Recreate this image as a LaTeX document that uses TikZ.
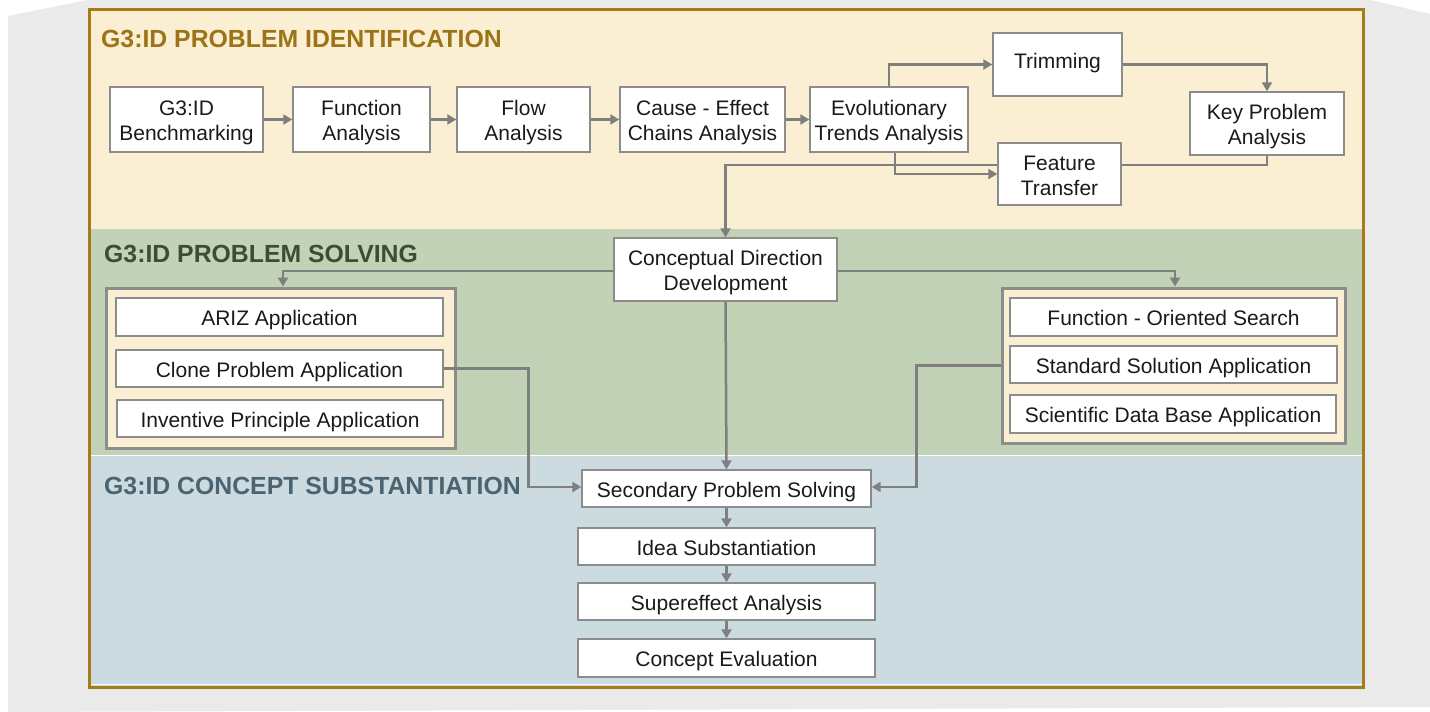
\documentclass[tikz,border=0pt]{standalone}
\usepackage{fontspec}
\setmainfont{Liberation Sans}
\usetikzlibrary{arrows.meta}
\definecolor{pagegrey}{HTML}{EAEAEA}
\definecolor{frame}{HTML}{A67C1A}
\definecolor{bandA}{HTML}{FAEFD3}
\definecolor{bandB}{HTML}{C2D2B6}
\definecolor{bandC}{HTML}{CCDBDF}
\definecolor{titleA}{HTML}{9C7316}
\definecolor{titleB}{HTML}{3E4C36}
\definecolor{titleC}{HTML}{4A6472}
\definecolor{boxline}{HTML}{8C8C8C}
\definecolor{wire}{HTML}{7F7F7F}
\definecolor{textcol}{HTML}{1A1A1A}
\newcommand\bodyfont{\fontsize{21bp}{25bp}\selectfont}
\newcommand\bandfont{\fontsize{24.8bp}{28bp}\selectfont\bfseries}
% struts that set the text a little low in its box
\newcommand\topstrut[1]{\rule{0pt}{#1}}
\newcommand\botstrut[1]{\rule[-#1]{0pt}{0pt}}
\newcommand\oneline[1]{\topstrut{22bp}#1\botstrut{5bp}}
\newcommand\twolines[2]{\topstrut{22bp}#1\\#2\botstrut{5bp}}
\tikzset{
  stepbox/.style={draw=boxline, fill=white, line width=1.4bp, inner sep=0pt,
    align=center, font=\bodyfont, text=textcol},
  groupbox/.style={draw=boxline, fill=bandA, line width=3bp, inner sep=0pt},
  bandtitle/.style={anchor=base west, inner sep=0pt, font=\bandfont},
  arr/.style={draw=wire, line width=2.5bp,
    -{Triangle[width=10bp,length=9bp]}},
  link/.style={draw=wire, line width=2.5bp},
}
\begin{document}
\begin{tikzpicture}[x=1bp, y=-1bp]
\useasboundingbox (0,0) rectangle (1430,712);
% backdrop and frame
\fill[pagegrey] (8,712) -- (8,16) -- (88,0) -- (1370,0) -- (1430,14) -- (1430,707) -- cycle;
\fill[bandA] (90,10) rectangle (1362,229);
\fill[bandB] (90,229) rectangle (1362,455);
\fill[bandC] (90,456) rectangle (1362,686);
\draw[white, line width=1.2bp] (90,455.5) -- (1362,455.5);
\draw[white!85!bandC, line width=1.2bp] (90,684.5) -- (1362,684.5);
\draw[frame, line width=3bp] (89.5,9.5) rectangle (1363,687);

% band titles
\node[bandtitle, text=titleA] (tA) at (101,47.5) {G3:ID PROBLEM IDENTIFICATION};
\node[bandtitle, text=titleB] (tB) at (104,262) {G3:ID PROBLEM SOLVING};
\node[bandtitle, text=titleC] (tC) at (104,494) {G3:ID CONCEPT SUBSTANTIATION};

% problem identification
\node[stepbox, minimum width=153bp, minimum height=65bp] (bench) at (186.5,119.5) {\twolines{G3:ID}{Benchmarking}};
\node[stepbox, minimum width=137bp, minimum height=65bp] (func) at (361.5,119.5) {\twolines{Function}{Analysis}};
\node[stepbox, minimum width=133bp, minimum height=65bp] (flow) at (523.5,119.5) {\twolines{Flow}{Analysis}};
\node[stepbox, minimum width=165bp, minimum height=65bp] (cause) at (702.5,119.5) {\twolines{Cause - Effect}{Chains Analysis}};
\node[stepbox, minimum width=158bp, minimum height=65bp] (evol) at (889,119.5) {\twolines{Evolutionary}{Trends Analysis}};
\node[stepbox, minimum width=129bp, minimum height=63bp] (trim) at (1057.5,64.5) {\topstrut{16bp}Trimming\botstrut{7bp}};
\node[stepbox, minimum width=154bp, minimum height=63bp] (key) at (1267,123.5) {\twolines{Key Problem}{Analysis}};
\node[stepbox, minimum width=123bp, minimum height=62bp] (feat) at (1059.5,174) {\twolines{Feature}{Transfer}};

% problem solving
\node[stepbox, minimum width=223bp, minimum height=63bp] (cdd) at (725.5,269.5) {\twolines{Conceptual Direction}{Development}};
\node[groupbox, minimum width=348bp, minimum height=160bp] (lg) at (281,368) {};
\node[stepbox, minimum width=327bp, minimum height=38bp] (ariz) at (279.5,317) {\oneline{ARIZ Application}};
\node[stepbox, minimum width=327bp, minimum height=37bp] (clone) at (279.5,368.5) {\oneline{Clone Problem Application}};
\node[stepbox, minimum width=326bp, minimum height=37bp] (invent) at (280,418.5) {\oneline{Inventive Principle Application}};
\node[groupbox, minimum width=343bp, minimum height=155bp] (rg) at (1173.5,365.5) {};
\node[stepbox, minimum width=327bp, minimum height=38bp] (fos) at (1173.5,317) {\oneline{Function - Oriented Search}};
\node[stepbox, minimum width=327bp, minimum height=37bp] (ssa) at (1173.5,364.5) {\oneline{Standard Solution Application}};
\node[stepbox, minimum width=326bp, minimum height=38bp] (sdb) at (1173,414) {\oneline{Scientific Data Base Application}};

% concept substantiation
\node[stepbox, minimum width=289bp, minimum height=37bp] (sec) at (726.5,488.5) {\oneline{Secondary Problem Solving}};
\node[stepbox, minimum width=297bp, minimum height=37bp] (idea) at (726.5,546.5) {\oneline{Idea Substantiation}};
\node[stepbox, minimum width=297bp, minimum height=37bp] (sup) at (726.5,601.5) {\oneline{Supereffect Analysis}};
\node[stepbox, minimum width=297bp, minimum height=38bp] (eval) at (726.5,658) {\oneline{Concept Evaluation}};

% connectors
\draw[arr] (bench) -- (func);
\draw[arr] (func) -- (flow);
\draw[arr] (flow) -- (cause);
\draw[arr] (cause) -- (evol);
\draw[arr] (evol.north) |- (trim.west);
\draw[arr] (trim.east) -| (key.north);
\draw[arr] ([xshift=6bp]evol.south) |- (feat.west);
\draw[link] (key.south) |- ([yshift=9bp]feat.east);
\draw[arr] ([yshift=9bp]feat.west) -| (cdd.north);
\draw[arr] ([yshift=-1.5bp]cdd.west) -| ([xshift=2bp]lg.north);
\draw[arr] ([yshift=-1.5bp]cdd.east) -| ([xshift=1.5bp]rg.north);
\draw[arr] (cdd.south) -- (sec.north);
\draw[arr] (clone.east) -- ++(85,0) |- ([yshift=1.5bp]sec.west);
\draw[arr] (rg.west) -- ++(-84,0) |- ([yshift=1.5bp]sec.east);
\draw[arr] (sec) -- (idea);
\draw[arr] (idea) -- (sup);
\draw[arr] (sup) -- (eval);
\end{tikzpicture}
\end{document}
